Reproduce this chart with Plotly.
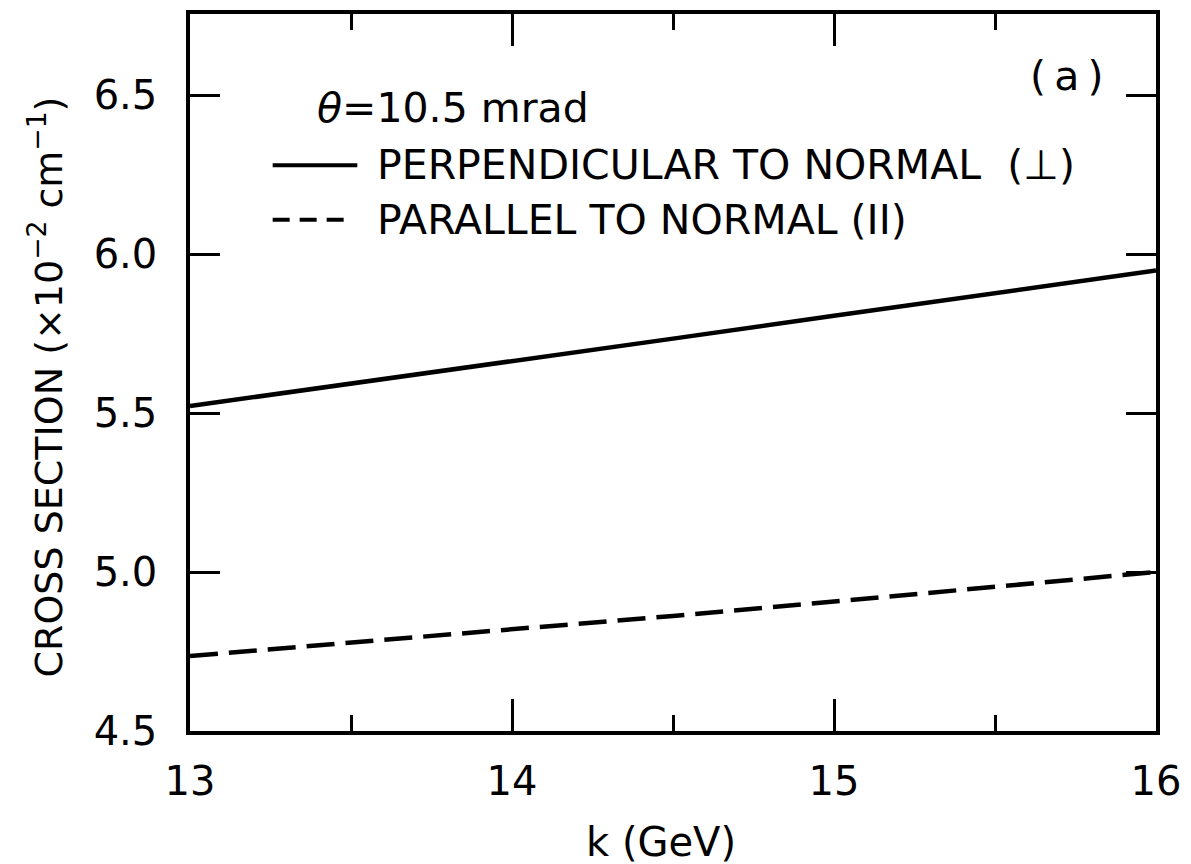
import plotly.graph_objects as go

# Data
k_gev = [13.0, 13.5, 14.0, 14.5, 15.0, 15.5, 16.0]
perpendicular = [5.522, 5.592, 5.663, 5.734, 5.806, 5.877, 5.948]
parallel = [4.736, 4.777, 4.819, 4.862, 4.907, 4.953, 5.000]

x_ticks = [13, 14, 15, 16]
y_ticks = [4.5, 5.0, 5.5, 6.0, 6.5]

FONT = "DejaVu Sans"
W, H = 1191, 864
L, R, T, B = 190, 31, 10, 133

fig = go.Figure()
fig.add_trace(go.Scatter(x=k_gev, y=perpendicular, mode="lines",
                         line=dict(color="black", width=4.5),
                         name="PERPENDICULAR TO NORMAL (⊥)", showlegend=False))
fig.add_trace(go.Scatter(x=k_gev, y=parallel, mode="lines",
                         line=dict(color="black", width=4.5, dash="28px,11px"),
                         name="PARALLEL TO NORMAL (II)", showlegend=False))

pw, ph = W - L - R, H - T - B
def px(xp):
    return (xp - L) / pw
def py(yp):
    return (H - B - yp) / ph

# legend keys
fig.add_shape(type="line", xref="paper", yref="paper",
              x0=px(273), x1=px(358), y0=py(162), y1=py(162),
              line=dict(color="black", width=4))
fig.add_shape(type="line", xref="paper", yref="paper",
              x0=px(273), x1=px(354), y0=py(217), y1=py(217),
              line=dict(color="black", width=4, dash="17px,10px"))

ann_font = dict(family=FONT, size=41, color="black")
fig.add_annotation(xref="paper", yref="paper", x=px(316), y=py(105),
                   xanchor="left", yanchor="middle", showarrow=False,
                   text="<i>θ</i>=10.5 mrad", font=ann_font)
fig.add_annotation(xref="paper", yref="paper", x=px(376), y=py(162),
                   xanchor="left", yanchor="middle", showarrow=False,
                   text="PERPENDICULAR TO NORMAL  (⊥)", font=ann_font)
fig.add_annotation(xref="paper", yref="paper", x=px(376), y=py(217),
                   xanchor="left", yanchor="middle", showarrow=False,
                   text="PARALLEL TO NORMAL (II)", font=ann_font)
fig.add_annotation(xref="paper", yref="paper", x=px(1031), y=py(72),
                   xanchor="left", yanchor="middle", showarrow=False,
                   text="(\u2009a\u2009)", font=ann_font)
# axis titles
fig.add_annotation(xref="paper", yref="paper", x=px(45), y=py(385),
                   xanchor="center", yanchor="middle", showarrow=False,
                   textangle=-90,
                   text="CROSS SECTION (×10<sup>−2</sup> cm<sup>−1</sup>)",
                   font=dict(family=FONT, size=38, color="black"))
fig.add_annotation(xref="paper", yref="paper", x=px(663), y=py(843),
                   xanchor="center", yanchor="middle", showarrow=False,
                   text="k (GeV)", font=dict(family=FONT, size=40, color="black"))

fig.update_xaxes(range=[13, 16], tickvals=x_ticks, ticktext=[str(v) for v in x_ticks],
                 ticks="inside", ticklen=32, tickwidth=3, tickcolor="black",
                 minor=dict(ticks="inside", ticklen=16, tickwidth=3, dtick=0.5,
                            tick0=13, tickcolor="black", showgrid=False),
                 showline=True, linewidth=3.5, linecolor="black", mirror="ticks",
                 showgrid=False, zeroline=False, ticklabelstandoff=12,
                 tickfont=dict(family=FONT, size=40, color="black"))
fig.update_yaxes(range=[4.5, 6.755], tickvals=y_ticks,
                 ticktext=[f"{v:.1f}" for v in y_ticks],
                 ticks="inside", ticklen=30, tickwidth=3, tickcolor="black",
                 showline=True, linewidth=3.5, linecolor="black", mirror="ticks",
                 showgrid=False, zeroline=False, ticklabelstandoff=21,
                 tickfont=dict(family=FONT, size=40, color="black"))

fig.update_layout(width=W, height=H, autosize=False,
                  margin=dict(l=L, r=R, t=T, b=B),
                  paper_bgcolor="white", plot_bgcolor="white",
                  showlegend=False)

fig.write_html("out.html")
